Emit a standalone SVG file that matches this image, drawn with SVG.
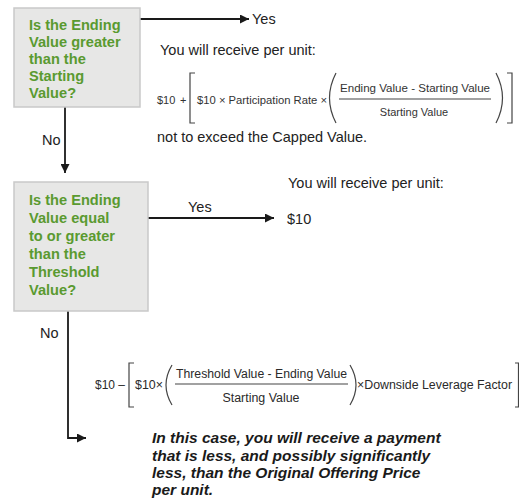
<svg xmlns="http://www.w3.org/2000/svg" width="519" height="501" viewBox="0 0 519 501">
<defs>
<marker id="arr" viewBox="0 0 10 10" refX="10" refY="5" markerWidth="11" markerHeight="9" markerUnits="userSpaceOnUse" orient="auto">
<path d="M0,0 L10,5 L0,10 Z" fill="#1a1a1a"/>
</marker>
<style>
.box{fill:#e7e7e6;stroke:#c9c9c9;stroke-width:1.5}
.q{font-family:"Liberation Sans",Arial,sans-serif;font-weight:bold;font-size:14.6px;fill:#5a9a30}
.t{font-family:"Liberation Sans",Arial,sans-serif;font-size:14.5px;fill:#222}
.f{font-family:"Liberation Sans",Arial,sans-serif;font-size:11px;fill:#333}
.g{font-family:"Liberation Sans",Arial,sans-serif;font-size:12.5px;fill:#2a2a2a}
.br{fill:none;stroke:#444;stroke-width:1.2}
.c{fill:none;stroke:#1a1a1a;stroke-width:1.8;marker-end:url(#arr)}
.it{font-family:"Liberation Sans",Arial,sans-serif;font-weight:bold;font-style:italic;font-size:15.5px;fill:#1a1a1a}
</style>
</defs>
<rect width="519" height="501" fill="#ffffff"/>

<g id="connectors">
<path class="c" d="M140,19 H249"/>
<path class="c" d="M65,107 V173"/>
<path class="c" d="M148,218 H274"/>
<path class="c" d="M68,311 V438 H86"/>
</g>

<g id="q1">
<rect class="box" x="14" y="8" width="126" height="99"/>
<text class="q" x="29" y="30">Is the Ending</text>
<text class="q" x="29" y="47">Value greater</text>
<text class="q" x="29" y="64">than the</text>
<text class="q" x="29" y="81">Starting</text>
<text class="q" x="29" y="98">Value?</text>
</g>

<g id="q2">
<rect class="box" x="14" y="182" width="134" height="129"/>
<text class="q" x="29" y="205">Is the Ending</text>
<text class="q" x="29" y="223">Value equal</text>
<text class="q" x="29" y="241">to or greater</text>
<text class="q" x="29" y="259">than the</text>
<text class="q" x="29" y="277">Threshold</text>
<text class="q" x="29" y="295">Value?</text>
</g>

<g id="labels">
<text class="t" x="252" y="24">Yes</text>
<text class="t" x="42" y="145" font-size="14">No</text>
<text class="t" x="188" y="212">Yes</text>
<text class="t" x="40" y="338" font-size="14">No</text>
</g>

<g id="yes1">
<text class="t" x="160" y="55">You will receive per unit:</text>
<text class="f" x="157" y="104">$10</text>
<text class="f" x="180" y="104">+</text>
<path class="br" d="M195,73 H190 V123 H195"/>
<text class="f" x="197" y="104" textLength="130" lengthAdjust="spacingAndGlyphs">$10 × Participation Rate ×</text>
<path class="br" d="M336,73 Q323,98 336,123"/>
<text class="f" x="340" y="92" textLength="150" lengthAdjust="spacingAndGlyphs">Ending Value - Starting Value</text>
<line x1="339" y1="99" x2="491" y2="99" stroke="#444" stroke-width="1.2"/>
<text class="f" x="414" y="116" text-anchor="middle">Starting Value</text>
<path class="br" d="M496,73 Q509,98 496,123"/>
<path class="br" d="M507,73 H512 V123 H507"/>
<text class="t" x="157" y="142" font-size="14">not to exceed the Capped Value.</text>
</g>

<g id="yes2">
<text class="t" x="288" y="188">You will receive per unit:</text>
<text class="t" x="287" y="224" font-size="15">$10</text>
</g>

<g id="no2">
<text class="g" x="95" y="389" textLength="30" lengthAdjust="spacingAndGlyphs">$10 –</text>
<path class="br" d="M134,363 H129 V407 H134"/>
<text class="g" x="135" y="389" textLength="28" lengthAdjust="spacingAndGlyphs">$10×</text>
<path class="br" d="M172,365 Q160,385 172,405"/>
<text class="g" x="176" y="378" textLength="171" lengthAdjust="spacingAndGlyphs">Threshold Value - Ending Value</text>
<line x1="175" y1="384" x2="348" y2="384" stroke="#444" stroke-width="1.2"/>
<text class="g" x="261" y="402" text-anchor="middle" textLength="77" lengthAdjust="spacingAndGlyphs">Starting Value</text>
<path class="br" d="M350,365 Q362,385 350,405"/>
<text class="g" x="357" y="389" textLength="155" lengthAdjust="spacingAndGlyphs">×Downside Leverage Factor</text>
<path class="br" d="M515,363 H518.5 V407 H515"/>
<text class="it" x="152" y="443">In this case, you will receive a payment</text>
<text class="it" x="152" y="461">that is less, and possibly significantly</text>
<text class="it" x="152" y="478">less, than the Original Offering Price</text>
<text class="it" x="152" y="495">per unit.</text>
</g>
</svg>
